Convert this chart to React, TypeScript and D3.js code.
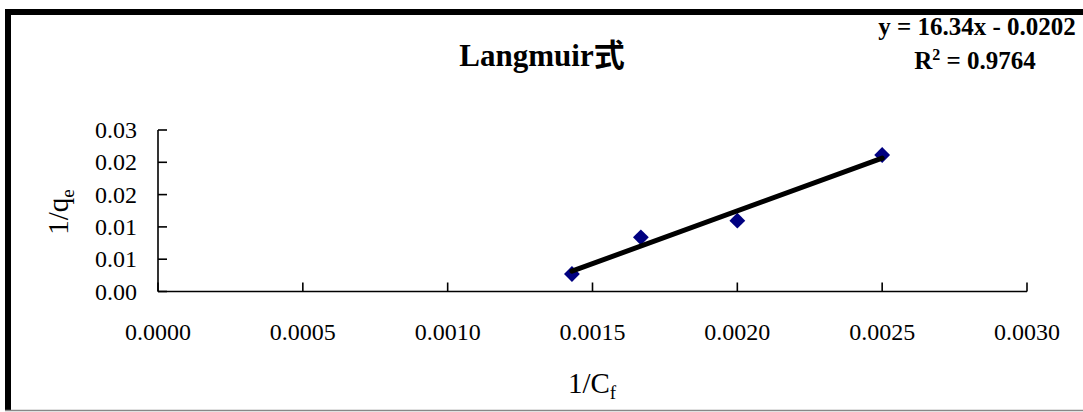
import * as d3 from "d3";

// 1/Cf and 1/qe
const xValues = [0.001429, 0.001667, 0.002, 0.0025];
const yValues = [0.00271, 0.00839, 0.01096, 0.02113];
// trendline from the printed equation
const slope = 16.34;
const intercept = -0.0202;
const xTicks = [0, 0.0005, 0.001, 0.0015, 0.002, 0.0025, 0.003];
const xTickLabels = ["0.0000", "0.0005", "0.0010", "0.0015", "0.0020", "0.0025", "0.0030"];
const yTicks = [0, 0.005, 0.01, 0.015, 0.02, 0.025];
const yTickLabels = ["0.00", "0.01", "0.01", "0.02", "0.02", "0.03"];

const W = 1083;
const H = 412;
const font = "'Liberation Serif', 'Times New Roman', 'Noto Sans CJK SC', serif";

export default function App() {
  const x = d3.scaleLinear().domain([0, 0.003]).range([158, 1027]);
  const y = d3.scaleLinear().domain([0, 0.025]).range([291.5, 130]);

  const x0 = d3.min(xValues)!;
  const x1 = d3.max(xValues)!;
  const trend = d3
    .line<number>()
    .x((d) => x(d))
    .y((d) => y(slope * d + intercept))([x0, x1]);

  // excel diamond = square turned 45deg
  const diamond = d3.symbol(d3.symbolSquare, 125)()!;

  return (
    <svg
      width={W}
      height={H}
      style={{ position: "absolute", left: 0, top: 0, background: "#fff" }}
      fontFamily={font}
    >
      {/* chart frame */}
      <line x1={8} y1={9} x2={8} y2={411} stroke="#000" strokeWidth={6} />
      <line x1={5} y1={12} x2={W} y2={12} stroke="#000" strokeWidth={6} />
      <line x1={5} y1={410.5} x2={W} y2={410.5} stroke="#888" strokeWidth={1.5} />

      <text x={542} y={66} textAnchor="middle" fontSize={31} fontWeight="bold">
        Langmuir式
      </text>

      <g fontWeight="bold" fontSize={25} textAnchor="middle">
        <text x={977} y={35}>y = 16.34x - 0.0202</text>
        <text x={975} y={69}>
          R<tspan fontSize={16} dy={-9}>2</tspan>
          <tspan dy={9}> = 0.9764</tspan>
        </text>
      </g>

      <g stroke="#000" strokeWidth={1.6}>
        <line x1={x(0)} y1={y(0.025)} x2={x(0)} y2={y(0)} />
        {yTicks.map((t) => (
          <line key={t} x1={x(0)} y1={y(t)} x2={x(0) + 9} y2={y(t)} />
        ))}
        <line x1={x(0)} y1={y(0)} x2={x(0.003)} y2={y(0)} />
        {xTicks.map((t) => (
          <line key={t} x1={x(t)} y1={y(0)} x2={x(t)} y2={y(0) - 9} />
        ))}
      </g>
      <g fontSize={24} textAnchor="end">
        {yTicks.map((t, i) => (
          <text key={t} x={137} y={y(t) + 8}>
            {yTickLabels[i]}
          </text>
        ))}
      </g>
      <g fontSize={24} textAnchor="middle">
        {xTicks.map((t, i) => (
          <text key={t} x={x(t)} y={340}>
            {xTickLabels[i]}
          </text>
        ))}
      </g>

      <text x={592} y={393} textAnchor="middle" fontSize={29}>
        1/C<tspan fontSize={19} dy={6}>f</tspan>
      </text>
      <text
        transform={`translate(68,212) rotate(-90)`}
        textAnchor="middle"
        fontSize={29}
      >
        1/q<tspan fontSize={19} dy={6}>e</tspan>
      </text>

      {xValues.map((v, i) => (
        <path
          key={v}
          d={diamond}
          transform={`translate(${x(v)},${y(yValues[i])}) rotate(45)`}
          fill="#000080"
        />
      ))}

      {/* trendline sits on top of the markers */}
      <path d={trend ?? ""} stroke="#000" strokeWidth={5} fill="none" strokeLinecap="round" />
    </svg>
  );
}
